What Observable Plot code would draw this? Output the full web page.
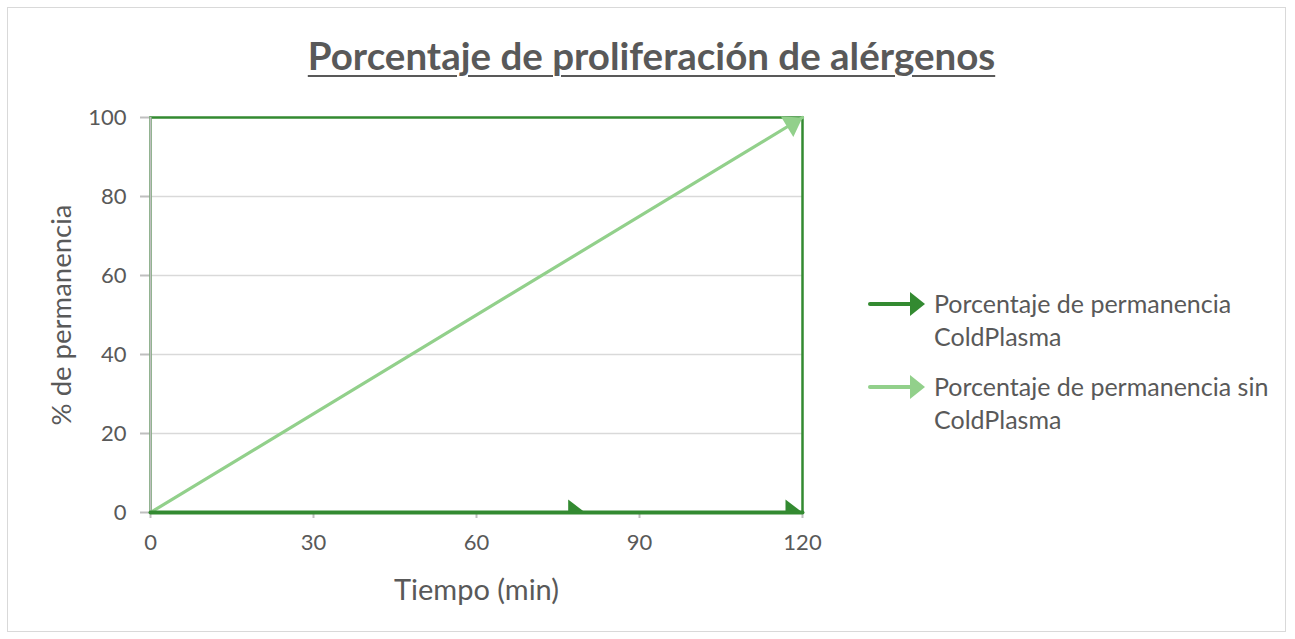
<!DOCTYPE html>
<html><head><meta charset="utf-8">
<script src="https://cdn.jsdelivr.net/npm/d3@7"></script>
<script src="https://cdn.jsdelivr.net/npm/@observablehq/plot@0.6"></script>
<style>
body{margin:0;background:#fff;font-family:Lato,"Open Sans",sans-serif;color:#595959}
#wrap{position:relative;width:1295px;height:639px;overflow:hidden}
#border{position:absolute;left:7px;top:7px;width:1279px;height:625px;border:1px solid #d9d9d9;box-sizing:border-box}
#title{position:absolute;left:4px;width:1295px;top:32px;text-align:center;font-weight:bold;font-size:38.5px;line-height:46px;text-decoration:underline;text-underline-offset:5px;text-decoration-thickness:2px;color:#595959}
#chart{position:absolute;left:0;top:90px}
#legend{position:absolute;left:868px;top:287px;font-size:25px;line-height:33px;color:#595959}
.item{display:flex;align-items:flex-start;margin-bottom:17px}
.item svg{flex:none;margin-top:4px;margin-right:8px}
</style></head><body>
<div id="wrap">
  <div id="border"></div>
  <div id="title">Porcentaje de proliferación de alérgenos</div>
  <div id="chart"></div>
  <div id="legend"></div>
</div>
<script>
// ---- data ----
const seriesNames = ["Porcentaje de permanencia ColdPlasma", "Porcentaje de permanencia sin ColdPlasma"];
const seriesColors = ["#338a31", "#92d08b"];
const coldTiempo = [0, 80, 120];
const coldValores = [0, 0, 0];
const sinTiempo = [0, 120];
const sinValores = [0, 100];
const xTicks = [0, 30, 60, 90, 120];
const yTicks = [0, 20, 40, 60, 80, 100];
const xLabel = "Tiempo (min)";
const yLabel = "% de permanencia";

const cold = coldTiempo.map((t, i) => ({t, v: coldValores[i]}));
const sin = sinTiempo.map((t, i) => ({t, v: sinValores[i]}));

const W = 860, H = 530, mL = 150, mR = 58, mT = 27, mB = 108;

// arrowhead symbol: tip at origin, pointing along angle (radians, screen coords)
function arrowHead(angle, L = 17, Wd = 26) {
  const c = Math.cos(angle), s = Math.sin(angle);
  const pt = (x, y) => [x * c - y * s, x * s + y * c];
  return {
    draw(ctx) {
      const a = pt(-L, -Wd / 2), b = pt(-L, Wd / 2);
      ctx.moveTo(0, 0); ctx.lineTo(a[0], a[1]); ctx.lineTo(b[0], b[1]); ctx.closePath();
    }
  };
}
const pw = W - mL - mR, ph = H - mT - mB;
const sinAngle = Math.atan2(-(sin[1].v - sin[0].v) / 100 * ph, (sin[1].t - sin[0].t) / 120 * pw);

const chart = Plot.plot({
  width: W, height: H,
  marginLeft: mL, marginRight: mR, marginTop: mT, marginBottom: mB,
  style: {fontFamily: "Lato, 'Open Sans', sans-serif", fontSize: "22px", color: "#595959", background: "transparent"},
  x: {domain: [0, 120], ticks: xTicks, tickSize: 6, tickPadding: 16, label: null},
  y: {domain: [0, 100], ticks: yTicks, tickSize: 10, tickPadding: 14, label: null},
  marks: [
    Plot.ruleY(yTicks.filter(d => d > 0 && d < 100), {stroke: "#d9d9d9", strokeWidth: 1.5}),
    Plot.frame({stroke: seriesColors[0], strokeWidth: 2.5}),
    Plot.ruleX([0], {stroke: "#bfbfbf", strokeWidth: 2}),
    Plot.line(sin, {x: "t", y: "v", stroke: seriesColors[1], strokeWidth: 3.2}),
    Plot.dot(sin.slice(-1), {x: "t", y: "v", symbol: arrowHead(sinAngle, 18, 24), r: 8, fill: seriesColors[1], stroke: "none"}),
    Plot.line(cold, {x: "t", y: "v", stroke: seriesColors[0], strokeWidth: 4}),
    Plot.dot(cold.slice(1), {x: "t", y: "v", symbol: arrowHead(0), r: 8, fill: seriesColors[0], stroke: "none", clip: true}),
    Plot.text([yLabel], {frameAnchor: "left", textAnchor: "middle", lineAnchor: "middle", dx: -88, rotate: -90, fontSize: 27.5, fill: "#595959"}),
    Plot.text([xLabel], {frameAnchor: "bottom", textAnchor: "middle", lineAnchor: "middle", dy: 78, fontSize: 29, fill: "#595959"})
  ]
});
document.getElementById("chart").appendChild(chart);
// tick marks light gray, labels dark gray
d3.select(chart).selectAll('[aria-label$="axis tick"] path, [aria-label$="axis"] .tick line, g.tick line').attr("stroke", "#bfbfbf").style("stroke-width", "2");
d3.select(chart).selectAll('[aria-label$="axis"] .domain').remove();

// legend
const legend = document.getElementById("legend");
seriesNames.forEach((name, i) => {
  const item = document.createElement("div");
  item.className = "item";
  const cut = name.lastIndexOf(" ");
  item.innerHTML = `<svg width="58" height="26" viewBox="0 0 58 26"><line x1="2" y1="13" x2="44" y2="13" stroke="${seriesColors[i]}" stroke-width="4" stroke-linecap="round"/><path d="M57,13 L42,1 L42,25 Z" fill="${seriesColors[i]}"/></svg><div style="width:350px">${name.slice(0, cut)}<br>${name.slice(cut + 1)}</div>`;
  legend.appendChild(item);
});
</script>
</body></html>
